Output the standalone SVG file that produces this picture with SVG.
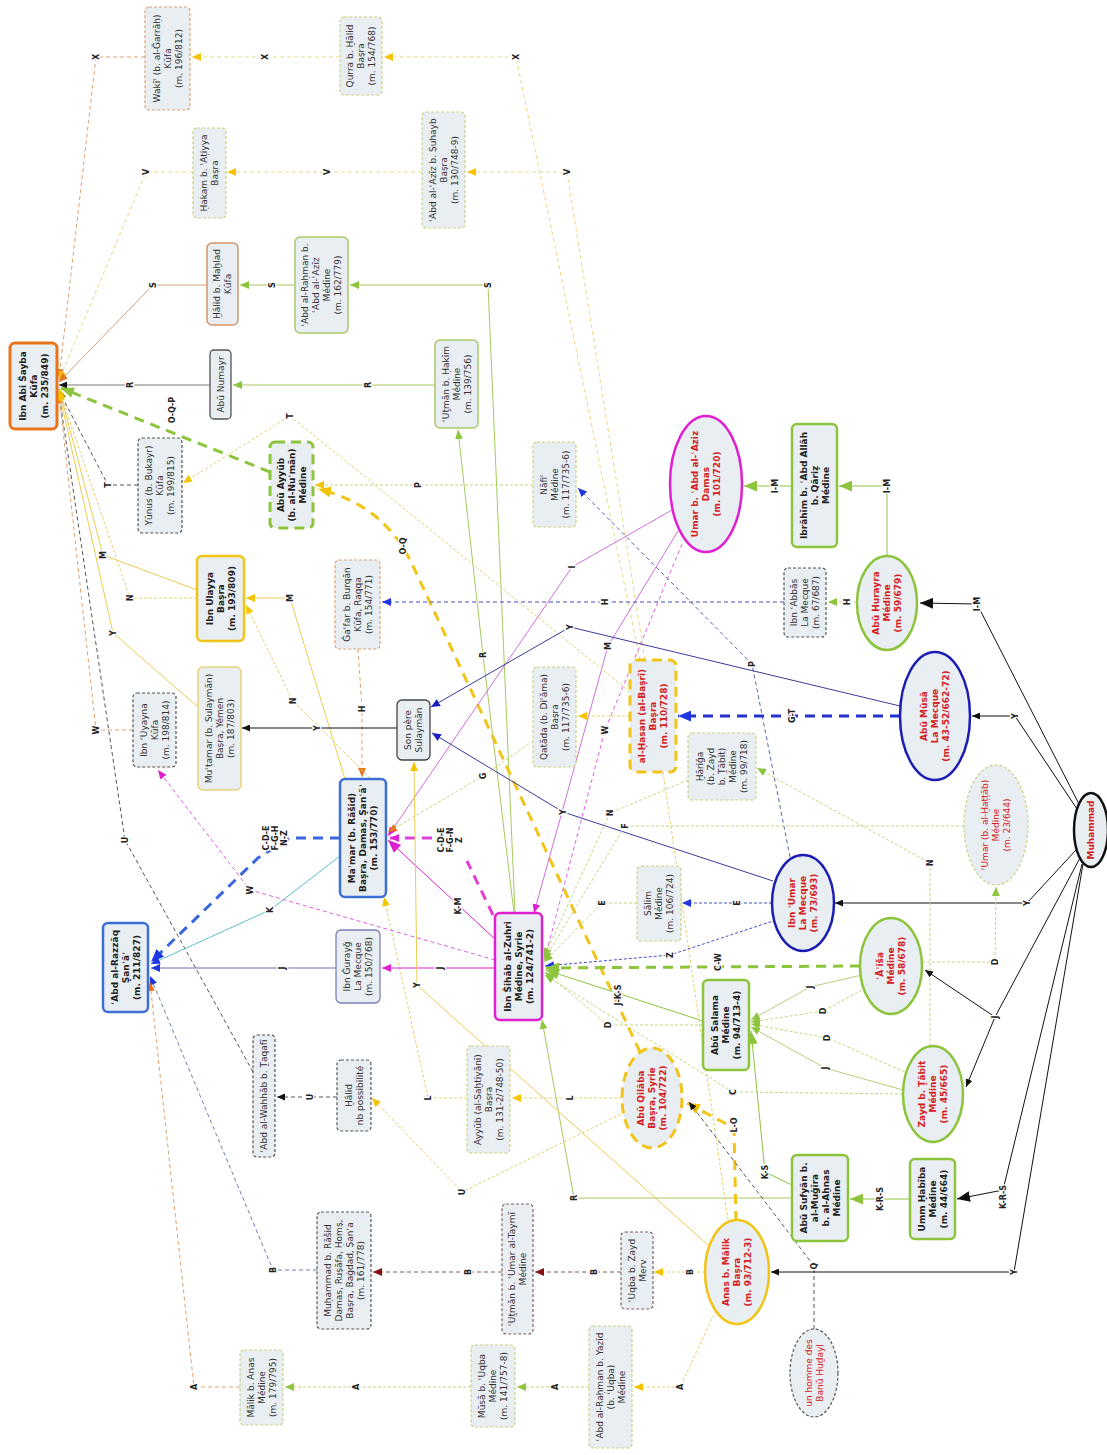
<svg xmlns="http://www.w3.org/2000/svg" width="1107" height="1455" viewBox="0 0 1107 1455">
<defs>
<style>
.bx{fill:#e9eef2}
.t{font-family:"DejaVu Sans",sans-serif;font-size:9px;fill:#333;text-anchor:middle}
.tb{font-family:"DejaVu Sans",sans-serif;font-size:9px;font-weight:bold;fill:#222;text-anchor:middle}
.tr{font-family:"DejaVu Sans",sans-serif;font-size:9px;font-weight:bold;fill:#d42020;text-anchor:middle}
.trn{font-family:"DejaVu Sans",sans-serif;font-size:9px;fill:#d42020;text-anchor:middle}
.l{font-family:"DejaVu Sans",sans-serif;font-size:8px;font-weight:bold;fill:#222;text-anchor:middle;stroke:#fff;stroke-width:2.5;paint-order:stroke}
.e{fill:none;stroke-width:1}
.dot{stroke-dasharray:3 2}
.dsh{stroke-dasharray:4 3}
.td{stroke-width:3;stroke-dasharray:10 7}
.dyg{stroke:#c8d480;stroke-width:1.2;stroke-dasharray:3 2;fill:#e9eef2}
.dgr{stroke:#555;stroke-width:1.2;stroke-dasharray:3 2;fill:#e9eef2}
.dor{stroke:#e0a070;stroke-width:1.2;stroke-dasharray:3 2;fill:#e9eef2}
.dbr{stroke:#806060;stroke-width:1.2;stroke-dasharray:3 2;fill:#e9eef2}
</style>
<marker id="ak" viewBox="0 0 8 7" refX="8" refY="3.5" markerWidth="8" markerHeight="7" markerUnits="userSpaceOnUse" orient="auto"><path d="M0,0L8,3.5L0,7z" fill="#111"/></marker>
<marker id="aK" viewBox="0 0 12 10" refX="12" refY="5" markerWidth="13" markerHeight="11" markerUnits="userSpaceOnUse" orient="auto"><path d="M0,0L12,5L0,10z" fill="#111"/></marker>
<marker id="ay" viewBox="0 0 8 7" refX="8" refY="3.5" markerWidth="9" markerHeight="8" markerUnits="userSpaceOnUse" orient="auto"><path d="M0,0L8,3.5L0,7z" fill="#f5c400"/></marker>
<marker id="aY" viewBox="0 0 12 10" refX="12" refY="5" markerWidth="13" markerHeight="11" markerUnits="userSpaceOnUse" orient="auto"><path d="M0,0L12,5L0,10z" fill="#f5c400"/></marker>
<marker id="ag" viewBox="0 0 8 7" refX="8" refY="3.5" markerWidth="9" markerHeight="8" markerUnits="userSpaceOnUse" orient="auto"><path d="M0,0L8,3.5L0,7z" fill="#8cc43c"/></marker>
<marker id="aG" viewBox="0 0 12 10" refX="12" refY="5" markerWidth="13" markerHeight="11" markerUnits="userSpaceOnUse" orient="auto"><path d="M0,0L12,5L0,10z" fill="#8cc43c"/></marker>
<marker id="am" viewBox="0 0 8 7" refX="8" refY="3.5" markerWidth="9" markerHeight="8" markerUnits="userSpaceOnUse" orient="auto"><path d="M0,0L8,3.5L0,7z" fill="#e020d0"/></marker>
<marker id="aM" viewBox="0 0 12 10" refX="12" refY="5" markerWidth="13" markerHeight="11" markerUnits="userSpaceOnUse" orient="auto"><path d="M0,0L12,5L0,10z" fill="#e020d0"/></marker>
<marker id="ab" viewBox="0 0 8 7" refX="8" refY="3.5" markerWidth="9" markerHeight="8" markerUnits="userSpaceOnUse" orient="auto"><path d="M0,0L8,3.5L0,7z" fill="#1f36e0"/></marker>
<marker id="aB" viewBox="0 0 12 10" refX="12" refY="5" markerWidth="13" markerHeight="11" markerUnits="userSpaceOnUse" orient="auto"><path d="M0,0L12,5L0,10z" fill="#1f36e0"/></marker>
<marker id="an" viewBox="0 0 8 7" refX="8" refY="3.5" markerWidth="9" markerHeight="8" markerUnits="userSpaceOnUse" orient="auto"><path d="M0,0L8,3.5L0,7z" fill="#2020c0"/></marker>
<marker id="ao" viewBox="0 0 8 7" refX="8" refY="3.5" markerWidth="9" markerHeight="8" markerUnits="userSpaceOnUse" orient="auto"><path d="M0,0L8,3.5L0,7z" fill="#e8741c"/></marker>
<marker id="ar" viewBox="0 0 8 7" refX="8" refY="3.5" markerWidth="9" markerHeight="8" markerUnits="userSpaceOnUse" orient="auto"><path d="M0,0L8,3.5L0,7z" fill="#8b1010"/></marker>
</defs>
<rect width="1107" height="1455" fill="#fff"/>

<g id="connectors">
<!-- X -->
<path class="e dsh" stroke="#ecd88a" d="M640,660L516,57L384,57" marker-end="url(#ay)"/>
<path class="e dsh" stroke="#ecd88a" d="M340,57L192,57" marker-end="url(#ay)"/>
<path class="e dsh" stroke="#e0a070" d="M145,57L96,57L59,378" marker-end="url(#ao)"/>
<!-- V -->
<path class="e dsh" stroke="#ecd88a" d="M645,660L567,172L467,172" marker-end="url(#ay)"/>
<path class="e dsh" stroke="#ecd88a" d="M422,172L227,172" marker-end="url(#ay)"/>
<path class="e dsh" stroke="#ecd88a" d="M193,172L146,172L59,380" marker-end="url(#ay)"/>
<!-- S -->
<path class="e" stroke="#a8c860" d="M515,913L488,285L350,285" marker-end="url(#ag)"/>
<path class="e" stroke="#a8c860" d="M295,285L240,285" marker-end="url(#ag)"/>
<path class="e" stroke="#d4a07a" stroke-width="1.5" d="M207,285L153,285L59,382" marker-end="url(#ao)"/>
<!-- R -->
<path class="e" stroke="#a8c860" d="M792,1198L574,1198L542,1020" marker-end="url(#ag)"/>
<path class="e" stroke="#a8c860" d="M514,913L483,655L458,430" marker-end="url(#ag)"/>
<path class="e" stroke="#a8c860" d="M435,385L368,385L233,385" marker-end="url(#ag)"/>
<path class="e" stroke="#777" stroke-width="1.3" d="M210,385L130,385L59,385" marker-end="url(#ak)"/>
<!-- O-Q-P / O-Q / L-O -->
<path class="e td" stroke="#8cc43c" d="M270,472L61,388" marker-end="url(#aG)"/>
<path class="e td" stroke="#f2c418" d="M640,1052L413,566Q385,505 318,489" marker-end="url(#aY)"/>
<path class="e td" stroke="#f2c418" d="M736,1221L734,1128L687,1103" marker-end="url(#aY)"/>
<!-- Q -->
<path class="e dsh" stroke="#555" d="M814,1329L814,1266L689,1102" marker-end="url(#ak)"/>
<!-- L -->
<path class="e dot" stroke="#e4d070" d="M622,1098L570,1098L512,1098" marker-end="url(#ay)"/>
<path class="e dot" stroke="#e4d070" d="M467,1098L428,1098L384,897" marker-end="url(#ay)"/>
<!-- U -->
<path class="e dot" stroke="#e4d070" d="M625,1112L462,1192L372,1098" marker-end="url(#ay)"/>
<path class="e dsh" stroke="#555" d="M337,1097L310,1097L277,1097" marker-end="url(#ak)"/>
<path class="e dsh" stroke="#555" d="M253,1072L125,840L59,394" marker-end="url(#ak)"/>
<!-- B -->
<path class="e dot" stroke="#e4d070" d="M705,1272L690,1272L654,1272" marker-end="url(#ay)"/>
<path class="e dsh" stroke="#905858" d="M621,1272L594,1272L535,1272" marker-end="url(#ar)"/>
<path class="e dsh" stroke="#905858" d="M502,1272L468,1272L373,1272" marker-end="url(#ar)"/>
<path class="e dsh" stroke="#7080b0" d="M317,1270L273,1270L150,976" marker-end="url(#ab)"/>
<!-- A -->
<path class="e dot" stroke="#e4d070" d="M716,1310L680,1387L634,1387" marker-end="url(#ay)"/>
<path class="e dot" stroke="#c8d480" d="M589,1387L555,1387L517,1387" marker-end="url(#ag)"/>
<path class="e dot" stroke="#c8d480" d="M471,1387L356,1387L285,1387" marker-end="url(#ag)"/>
<path class="e dsh" stroke="#e0a070" d="M240,1387L194,1387L150,982" marker-end="url(#ao)"/>
<!-- C-D-E F-G-H N-Z -->
<path class="e td" stroke="#3a66dd" d="M340,838L290,838L258,858L151,962" marker-end="url(#aB)"/>
<!-- K teal -->
<path class="e" stroke="#5cc0c8" d="M340,856L270,910L151,964" marker-end="url(#ab)"/>
<!-- J -->
<path class="e" stroke="#6a70b0" stroke-width="1.3" d="M336,968L282,968L151,968" marker-end="url(#ab)"/>
<path class="e" stroke="#e020d0" stroke-width="1.3" d="M495,968L440,968L382,968" marker-end="url(#am)"/>
<!-- W -->
<path class="e dsh" stroke="#e060e0" d="M682,544L605,730L545,958" marker-end="url(#am)"/>
<path class="e dsh" stroke="#e060e0" d="M495,960L250,890L158,770" marker-end="url(#am)"/>
<path class="e dsh" stroke="#e0a070" d="M133,730L96,730L59,394" marker-end="url(#ao)"/>
<!-- M / K-M / I -->
<path class="e" stroke="#d070dc" stroke-width="1.2" d="M678,531L608,646L534,913" marker-end="url(#am)"/>
<path class="e" stroke="#e020d0" stroke-width="3" d="M497,941L388,840" marker-end="url(#aM)"/>
<path class="e" stroke="#eccc50" stroke-width="1.3" d="M345,779L290,598L246,598" marker-end="url(#ay)"/>
<path class="e" stroke="#eccc50" stroke-width="1.3" d="M197,590L103,555L59,388" marker-end="url(#ay)"/>
<path class="e" stroke="#d070dc" stroke-width="1.2" d="M672,510L572,567L388,836" marker-end="url(#am)"/>
<path class="e td" stroke="#e040d8" d="M493,915L467,861M432,838L390,838" marker-end="url(#am)"/>
<!-- I-M -->
<path class="e" stroke="#111" stroke-width="2.5" d="M1080,806L977,604L920,603" marker-end="url(#aK)"/>
<path class="e" stroke="#8cc43c" stroke-width="2" d="M887,556L887,486L839,486" marker-end="url(#aG)"/>
<path class="e" stroke="#8cc43c" stroke-width="2" d="M792,486L775,486L744,486" marker-end="url(#aG)"/>
<!-- H -->
<path class="e dot" stroke="#c8d480" d="M857,602L847,602L828,602" marker-end="url(#ag)"/>
<path class="e dsh" stroke="#4050c8" d="M784,602L605,602L382,602" marker-end="url(#ab)"/>
<path class="e dsh" stroke="#e0a070" d="M358,649L362,709L362,777" marker-end="url(#ao)"/>
<!-- P -->
<path class="e dsh" stroke="#5566aa" d="M790,857L752,664L578,488" marker-end="url(#ab)"/>
<path class="e dot" stroke="#c8d480" d="M533,485L418,485L315,485" marker-end="url(#ay)"/>
<!-- T -->
<path class="e dot" stroke="#e4d070" d="M630,692L290,416L183,483" marker-end="url(#ay)"/>
<path class="e dsh" stroke="#555" d="M138,485L108,485L59,391" marker-end="url(#ak)"/>
<!-- Y -->
<path class="e" stroke="#111" d="M1079,812L1015,716L972,716" marker-end="url(#ak)"/>
<path class="e" stroke="#3a3a9a" d="M900,706L570,627L431,707" marker-end="url(#an)"/>
<path class="e" stroke="#111" d="M1076,850L1027,903L835,903" marker-end="url(#ak)"/>
<path class="e" stroke="#3a3a9a" d="M773,881L563,812L432,733" marker-end="url(#an)"/>
<path class="e" stroke="#111" d="M1083,864L1014,1272L771,1272" marker-end="url(#ak)"/>
<path class="e" stroke="#eccc50" stroke-width="1.3" d="M708,1245L417,985L414,762" marker-end="url(#ay)"/>
<path class="e" stroke="#111" d="M397,728L317,728L242,728" marker-end="url(#ak)"/>
<path class="e" stroke="#eccc50" stroke-width="1.3" d="M198,707L113,633L59,392" marker-end="url(#ay)"/>
<!-- N -->
<path class="e dot" stroke="#c8d480" d="M930,1046L930,863L757,768" marker-end="url(#ag)"/>
<path class="e dot" stroke="#c8d480" d="M688,780L610,813L544,957" marker-end="url(#ag)"/>
<path class="e dot" stroke="#e4d070" d="M370,778L293,701L246,605" marker-end="url(#ay)"/>
<path class="e dot" stroke="#e4d070" d="M197,598L130,598L59,390" marker-end="url(#ay)"/>
<!-- F / E / Z -->
<path class="e dot" stroke="#c8d480" d="M964,826L625,826L544,960" marker-end="url(#ag)"/>
<path class="e dot" stroke="#4050c8" d="M772,903L737,903L682,903" marker-end="url(#ab)"/>
<path class="e dot" stroke="#c8d480" d="M637,903L602,903L544,962" marker-end="url(#ag)"/>
<path class="e dot" stroke="#4050c8" d="M776,920L670,955L545,966" marker-end="url(#ab)"/>
<!-- C-W / J-K-S / D / J / C -->
<path class="e td" stroke="#8cc43c" d="M860,966L546,968" marker-end="url(#aG)"/>
<path class="e" stroke="#8cc43c" stroke-width="3" d="M703,1021L546,970" marker-end="url(#aG)"/>
<path class="e dot" stroke="#c8d480" d="M703,1025L608,1025L545,972" marker-end="url(#ag)"/>
<path class="e dot" stroke="#c8d480" d="M862,990L823,1011L751,1022" marker-end="url(#ag)"/>
<path class="e dot" stroke="#c8d480" d="M905,1072L827,1038L751,1024" marker-end="url(#ag)"/>
<path class="e dot" stroke="#c8d480" d="M922,962L995,962L996,887" marker-end="url(#ag)"/>
<path class="e" stroke="#b4d078" stroke-width="1.3" d="M862,975L810,987L751,1020" marker-end="url(#ag)"/>
<path class="e" stroke="#b4d078" stroke-width="1.3" d="M903,1090L825,1068L751,1027" marker-end="url(#ag)"/>
<path class="e" stroke="#111" d="M1080,858L995,1017L925,970" marker-end="url(#ak)"/>
<path class="e" stroke="#111" d="M995,1017L966,1087" marker-end="url(#ak)"/>
<path class="e dot" stroke="#c8d480" d="M903,1094L733,1092L545,975" marker-end="url(#ag)"/>
<!-- K-S / K-R-S -->
<path class="e" stroke="#8cc43c" stroke-width="2.5" d="M792,1185L765,1172L751,1031" marker-end="url(#aG)"/>
<path class="e" stroke="#111" stroke-width="2.5" d="M1082,864L1003,1190L957,1199" marker-end="url(#aK)"/>
<path class="e" stroke="#8cc43c" stroke-width="2.5" d="M910,1199L880,1199L850,1199" marker-end="url(#aG)"/>
<!-- G / G-T -->
<path class="e dot" stroke="#c8d480" d="M533,741L483,776L388,832" marker-end="url(#ao)"/>
<path class="e td" stroke="#2233cc" d="M900,716L790,716L678,716" marker-end="url(#aB)"/>
<path class="e dot" stroke="#e4d070" d="M630,716L578,716" marker-end="url(#ay)"/>
<path class="e dot" stroke="#e4d070" d="M728,1220L663,772"/>

<!-- labels -->
<g>
<text class="l" transform="translate(516,57) rotate(-90)" y="3">X</text>
<text class="l" transform="translate(265,57) rotate(-90)" y="3">X</text>
<text class="l" transform="translate(96,57) rotate(-90)" y="3">X</text>
<text class="l" transform="translate(567,172) rotate(-90)" y="3">V</text>
<text class="l" transform="translate(327,172) rotate(-90)" y="3">V</text>
<text class="l" transform="translate(146,172) rotate(-90)" y="3">V</text>
<text class="l" transform="translate(488,285) rotate(-90)" y="3">S</text>
<text class="l" transform="translate(272,285) rotate(-90)" y="3">S</text>
<text class="l" transform="translate(153,285) rotate(-90)" y="3">S</text>
<text class="l" transform="translate(574,1198) rotate(-90)" y="3">R</text>
<text class="l" transform="translate(483,655) rotate(-90)" y="3">R</text>
<text class="l" transform="translate(368,385) rotate(-90)" y="3">R</text>
<text class="l" transform="translate(130,385) rotate(-90)" y="3">R</text>
<text class="l" transform="translate(172,410) rotate(-90)" y="3">O-Q-P</text>
<text class="l" transform="translate(403,546) rotate(-90)" y="3">O-Q</text>
<text class="l" transform="translate(734,1125) rotate(-90)" y="3">L-O</text>
<text class="l" transform="translate(814,1266) rotate(-90)" y="3">Q</text>
<text class="l" transform="translate(570,1098) rotate(-90)" y="3">L</text>
<text class="l" transform="translate(428,1098) rotate(-90)" y="3">L</text>
<text class="l" transform="translate(462,1192) rotate(-90)" y="3">U</text>
<text class="l" transform="translate(310,1097) rotate(-90)" y="3">U</text>
<text class="l" transform="translate(125,840) rotate(-90)" y="3">U</text>
<text class="l" transform="translate(690,1272) rotate(-90)" y="3">B</text>
<text class="l" transform="translate(594,1272) rotate(-90)" y="3">B</text>
<text class="l" transform="translate(468,1272) rotate(-90)" y="3">B</text>
<text class="l" transform="translate(273,1270) rotate(-90)" y="3">B</text>
<text class="l" transform="translate(680,1387) rotate(-90)" y="3">A</text>
<text class="l" transform="translate(555,1387) rotate(-90)" y="3">A</text>
<text class="l" transform="translate(356,1387) rotate(-90)" y="3">A</text>
<text class="l" transform="translate(194,1387) rotate(-90)" y="3">A</text>
<text class="l" transform="translate(275,838) rotate(-90)"><tspan x="0" y="-6">C-D-E</tspan><tspan x="0" dy="9">F-G-H</tspan><tspan x="0" dy="9">N-Z</tspan></text>
<text class="l" transform="translate(450,840) rotate(-90)"><tspan x="0" y="-6">C-D-E</tspan><tspan x="0" dy="9">F-G-N</tspan><tspan x="0" dy="9">Z</tspan></text>
<text class="l" transform="translate(270,910) rotate(-90)" y="3">K</text>
<text class="l" transform="translate(282,968) rotate(-90)" y="3">J</text>
<text class="l" transform="translate(440,968) rotate(-90)" y="3">J</text>
<text class="l" transform="translate(605,730) rotate(-90)" y="3">W</text>
<text class="l" transform="translate(250,890) rotate(-90)" y="3">W</text>
<text class="l" transform="translate(96,730) rotate(-90)" y="3">W</text>
<text class="l" transform="translate(608,646) rotate(-90)" y="3">M</text>
<text class="l" transform="translate(458,906) rotate(-90)" y="3">K-M</text>
<text class="l" transform="translate(290,598) rotate(-90)" y="3">M</text>
<text class="l" transform="translate(103,555) rotate(-90)" y="3">M</text>
<text class="l" transform="translate(572,567) rotate(-90)" y="3">I</text>
<text class="l" transform="translate(977,604) rotate(-90)" y="3">I-M</text>
<text class="l" transform="translate(887,486) rotate(-90)" y="3">I-M</text>
<text class="l" transform="translate(775,486) rotate(-90)" y="3">I-M</text>
<text class="l" transform="translate(847,602) rotate(-90)" y="3">H</text>
<text class="l" transform="translate(605,602) rotate(-90)" y="3">H</text>
<text class="l" transform="translate(362,709) rotate(-90)" y="3">H</text>
<text class="l" transform="translate(752,664) rotate(-90)" y="3">P</text>
<text class="l" transform="translate(418,485) rotate(-90)" y="3">P</text>
<text class="l" transform="translate(290,416) rotate(-90)" y="3">T</text>
<text class="l" transform="translate(108,485) rotate(-90)" y="3">T</text>
<text class="l" transform="translate(1015,716) rotate(-90)" y="3">Y</text>
<text class="l" transform="translate(570,627) rotate(-90)" y="3">Y</text>
<text class="l" transform="translate(1027,903) rotate(-90)" y="3">Y</text>
<text class="l" transform="translate(563,812) rotate(-90)" y="3">Y</text>
<text class="l" transform="translate(1014,1272) rotate(-90)" y="3">Y</text>
<text class="l" transform="translate(417,985) rotate(-90)" y="3">Y</text>
<text class="l" transform="translate(317,728) rotate(-90)" y="3">Y</text>
<text class="l" transform="translate(113,633) rotate(-90)" y="3">Y</text>
<text class="l" transform="translate(930,863) rotate(-90)" y="3">N</text>
<text class="l" transform="translate(610,813) rotate(-90)" y="3">N</text>
<text class="l" transform="translate(293,701) rotate(-90)" y="3">N</text>
<text class="l" transform="translate(130,598) rotate(-90)" y="3">N</text>
<text class="l" transform="translate(625,826) rotate(-90)" y="3">F</text>
<text class="l" transform="translate(737,903) rotate(-90)" y="3">E</text>
<text class="l" transform="translate(602,903) rotate(-90)" y="3">E</text>
<text class="l" transform="translate(670,955) rotate(-90)" y="3">Z</text>
<text class="l" transform="translate(718,962) rotate(-90)" y="3">C-W</text>
<text class="l" transform="translate(618,995) rotate(-90)" y="3">J-K-S</text>
<text class="l" transform="translate(608,1025) rotate(-90)" y="3">D</text>
<text class="l" transform="translate(823,1011) rotate(-90)" y="3">D</text>
<text class="l" transform="translate(827,1038) rotate(-90)" y="3">D</text>
<text class="l" transform="translate(995,962) rotate(-90)" y="3">D</text>
<text class="l" transform="translate(810,987) rotate(-90)" y="3">J</text>
<text class="l" transform="translate(825,1068) rotate(-90)" y="3">J</text>
<text class="l" transform="translate(995,1017) rotate(-90)" y="3">J</text>
<text class="l" transform="translate(733,1092) rotate(-90)" y="3">C</text>
<text class="l" transform="translate(765,1172) rotate(-90)" y="3">K-S</text>
<text class="l" transform="translate(1003,1197) rotate(-90)" y="3">K-R-S</text>
<text class="l" transform="translate(880,1199) rotate(-90)" y="3">K-R-S</text>
<text class="l" transform="translate(483,776) rotate(-90)" y="3">G</text>
<text class="l" transform="translate(792,716) rotate(-90)" y="3">G-T</text>
</g>
</g>

<g id="nodes">
<g id="n-ibnabishayba"><rect x="10" y="343" width="47" height="86" rx="5" fill="#e9eef2" stroke="#e8741c" stroke-width="3"/><text class="tb" transform="translate(33.5,386) rotate(-90)"><tspan x="0" y="-7.8">Ibn Abi Šayba</tspan><tspan x="0" dy="11">Kūfa</tspan><tspan x="0" dy="11">(m. 235/849)</tspan></text></g>
<g id="n-waki"><rect class="dor" x="145" y="7" width="45" height="103" rx="4"/><text class="t" transform="translate(167.5,58.5) rotate(-90)"><tspan x="0" y="-7.8">Wakīʿ (b. al-Ǧarrāḥ)</tspan><tspan x="0" dy="11">Kūfa</tspan><tspan x="0" dy="11">(m. 196/812)</tspan></text></g>
<g id="n-qurra"><rect class="dyg" x="340" y="17" width="42" height="78" rx="4"/><text class="t" transform="translate(361,56) rotate(-90)"><tspan x="0" y="-7.8">Qurra b. Ḫālid</tspan><tspan x="0" dy="11">Baṣra</tspan><tspan x="0" dy="11">(m. 154/768)</tspan></text></g>
<g id="n-hakam"><rect class="dyg" x="193" y="128" width="33" height="90" rx="4"/><text class="t" transform="translate(209.5,173) rotate(-90)"><tspan x="0" y="-2.3">Ḥakam b. ʿAṭiyya</tspan><tspan x="0" dy="11">Baṣra</tspan></text></g>
<g id="n-suhayb"><rect class="dyg" x="422" y="112" width="43" height="116" rx="4"/><text class="t" transform="translate(443.5,170) rotate(-90)"><tspan x="0" y="-7.8">ʿAbd al-ʿAzīz b. Ṣuhayb</tspan><tspan x="0" dy="11">Baṣra</tspan><tspan x="0" dy="11">(m. 130/748-9)</tspan></text></g>
<g id="n-halidmahlad"><rect x="207" y="243" width="31" height="82" rx="5" fill="#e9eef2" stroke="#d4956a" stroke-width="1.5"/><text class="t" transform="translate(222.5,284) rotate(-90)"><tspan x="0" y="-2.3">Ḫālid b. Maḫlad</tspan><tspan x="0" dy="11">Kūfa</tspan></text></g>
<g id="n-abdalrahman-aziz"><rect x="295" y="237" width="53" height="96" rx="5" fill="#e9eef2" stroke="#a8cc68" stroke-width="1.5"/><text class="t" transform="translate(321.5,285) rotate(-90)"><tspan x="0" y="-13.3">ʿAbd al-Raḥman b.</tspan><tspan x="0" dy="11">ʿAbd al-ʿAzīz</tspan><tspan x="0" dy="11">Médine</tspan><tspan x="0" dy="11">(m. 162/779)</tspan></text></g>
<g id="n-abunumayr"><rect x="210" y="350" width="21" height="69" rx="4" fill="#e9eef2" stroke="#555" stroke-width="1.3"/><text class="t" transform="translate(220.5,384.5) rotate(-90)" y="3.2">Abū Numayr</text></g>
<g id="n-uthmanhakim"><rect x="435" y="340" width="43" height="88" rx="5" fill="#e9eef2" stroke="#a8cc68" stroke-width="1.5"/><text class="t" transform="translate(456.5,384) rotate(-90)"><tspan x="0" y="-7.8">ʿUṯmān b. Ḥakīm</tspan><tspan x="0" dy="11">Médine</tspan><tspan x="0" dy="11">(m. 139/756)</tspan></text></g>
<g id="n-yunus"><rect class="dgr" x="138" y="438" width="44" height="95" rx="4"/><text class="t" transform="translate(160,485.5) rotate(-90)"><tspan x="0" y="-7.8">Yūnus (b. Bukayr)</tspan><tspan x="0" dy="11">Kūfa</tspan><tspan x="0" dy="11">(m. 199/815)</tspan></text></g>
<g id="n-abuayyub"><rect x="270" y="442" width="43" height="86" rx="5" fill="#e9eef2" stroke="#8cc43c" stroke-width="3" stroke-dasharray="10 6"/><text class="tb" transform="translate(291.5,485) rotate(-90)"><tspan x="0" y="-7.8">Abū Ayyūb</tspan><tspan x="0" dy="11">(b. al-Nuʿmān)</tspan><tspan x="0" dy="11">Médine</tspan></text></g>
<g id="n-nafi"><rect class="dyg" x="533" y="442" width="43" height="85" rx="4"/><text class="t" transform="translate(554.5,484.5) rotate(-90)"><tspan x="0" y="-7.8">Nāfiʿ</tspan><tspan x="0" dy="11">Médine</tspan><tspan x="0" dy="11">(m. 117/735-6)</tspan></text></g>
<g id="n-umarabdalaziz"><ellipse cx="706" cy="484" rx="36" ry="68" fill="#e9eef2" stroke="#e020d0" stroke-width="2.5"/><text class="tr" transform="translate(706,484) rotate(-90)"><tspan x="0" y="-7.8">Umar b. ʿAbd al-ʿAziz</tspan><tspan x="0" dy="11">Damas</tspan><tspan x="0" dy="11">(m. 101/720)</tspan></text></g>
<g id="n-ibrahim"><rect x="792" y="424" width="45" height="123" rx="5" fill="#e9eef2" stroke="#8cc43c" stroke-width="2.5"/><text class="tb" transform="translate(814.5,485.5) rotate(-90)"><tspan x="0" y="-7.8">Ibrāhīm b. ʿAbd Allāh</tspan><tspan x="0" dy="11">b. Qāriẓ</tspan><tspan x="0" dy="11">Médine</tspan></text></g>
<g id="n-ibnulayya"><rect x="197" y="556" width="47" height="85" rx="5" fill="#e9eef2" stroke="#f2c418" stroke-width="2.5"/><text class="tb" transform="translate(220.5,598.5) rotate(-90)"><tspan x="0" y="-7.8">Ibn Ulayya</tspan><tspan x="0" dy="11">Baṣra</tspan><tspan x="0" dy="11">(m. 193/809)</tspan></text></g>
<g id="n-jafar"><rect class="dor" x="335" y="560" width="45" height="89" rx="4"/><text class="t" transform="translate(357.5,604.5) rotate(-90)"><tspan x="0" y="-7.8">Ǧaʿfar b. Burqān</tspan><tspan x="0" dy="11">Kūfa, Raqqa</tspan><tspan x="0" dy="11">(m. 154/771)</tspan></text></g>
<g id="n-ibnabbas"><rect class="dgr" x="784" y="568" width="42" height="69" rx="4"/><text class="t" transform="translate(805,602.5) rotate(-90)"><tspan x="0" y="-7.8">Ibn ʿAbbās</tspan><tspan x="0" dy="11">La Mecque</tspan><tspan x="0" dy="11">(m. 67/687)</tspan></text></g>
<g id="n-abuhurayra"><ellipse cx="887" cy="603" rx="30" ry="47" fill="#e9eef2" stroke="#8cc43c" stroke-width="2.5"/><text class="tr" transform="translate(887,603) rotate(-90)"><tspan x="0" y="-7.8">Abū Hurayra</tspan><tspan x="0" dy="11">Médine</tspan><tspan x="0" dy="11">(m. 59/679)</tspan></text></g>
<g id="n-abumusa"><ellipse cx="935" cy="716" rx="35" ry="64" fill="#e9eef2" stroke="#1c1cb4" stroke-width="2.5"/><text class="tr" transform="translate(935,716) rotate(-90)"><tspan x="0" y="-7.8">Abū Mūsā</tspan><tspan x="0" dy="11">La Mecque</tspan><tspan x="0" dy="11">(m. 43-52/662-72)</tspan></text></g>
<g id="n-mutamar"><rect x="198" y="667" width="43" height="123" rx="5" fill="#e9eef2" stroke="#e6d27a" stroke-width="1.5"/><text class="t" transform="translate(219.5,728.5) rotate(-90)"><tspan x="0" y="-7.8">Muʿtamar (b. Sulaymān)</tspan><tspan x="0" dy="11">Baṣra, Yémen</tspan><tspan x="0" dy="11">(m. 187/803)</tspan></text></g>
<g id="n-ibnuyayna"><rect class="dgr" x="133" y="693" width="43" height="74" rx="4"/><text class="t" transform="translate(154.5,730) rotate(-90)"><tspan x="0" y="-7.8">Ibn ʿUyayna</tspan><tspan x="0" dy="11">Kūfa</tspan><tspan x="0" dy="11">(m. 198/814)</tspan></text></g>
<g id="n-sonpere"><rect x="397" y="700" width="33" height="60" rx="5" fill="#e9eef2" stroke="#444" stroke-width="1.3"/><text class="t" transform="translate(413.5,730) rotate(-90)"><tspan x="0" y="-2.3">Son père</tspan><tspan x="0" dy="11">Sulaymān</tspan></text></g>
<g id="n-qatada"><rect class="dyg" x="533" y="667" width="43" height="100" rx="4"/><text class="t" transform="translate(554.5,717) rotate(-90)"><tspan x="0" y="-7.8">Qatāda (b. Diʿāma)</tspan><tspan x="0" dy="11">Baṣra</tspan><tspan x="0" dy="11">(m. 117/735-6)</tspan></text></g>
<g id="n-hasan"><rect x="630" y="660" width="46" height="112" rx="6" fill="#e9eef2" stroke="#f2c418" stroke-width="3" stroke-dasharray="10 6"/><text class="tr" transform="translate(653,716) rotate(-90)"><tspan x="0" y="-7.8">al-Ḥasan (al-Baṣrī)</tspan><tspan x="0" dy="11">Baṣra</tspan><tspan x="0" dy="11">(m. 110/728)</tspan></text></g>
<g id="n-hariga"><rect class="dyg" x="688" y="733" width="68" height="67" rx="4"/><text class="t" transform="translate(722,766.5) rotate(-90)"><tspan x="0" y="-18.8">Ḫāriǧa</tspan><tspan x="0" dy="11">(b. Zayd</tspan><tspan x="0" dy="11">b. Ṯābit)</tspan><tspan x="0" dy="11">Médine</tspan><tspan x="0" dy="11">(m. 99/718)</tspan></text></g>
<g id="n-umarhattab"><ellipse cx="996" cy="825" rx="32" ry="60" fill="#e9eef2" stroke="#c8d480" stroke-width="1.2" stroke-dasharray="3 2"/><text class="trn" transform="translate(996,825) rotate(-90)"><tspan x="0" y="-7.8">ʿUmar (b. al-Ḫaṭṭāb)</tspan><tspan x="0" dy="11">Médine</tspan><tspan x="0" dy="11">(m. 23/644)</tspan></text></g>
<g id="n-muhammad"><ellipse cx="1091" cy="830" rx="17" ry="37" fill="#e9eef2" stroke="#111" stroke-width="2.5"/><text class="tr" transform="translate(1091,830) rotate(-90)" y="3.2">Muhammad</text></g>
<g id="n-mamar"><rect x="340" y="779" width="46" height="118" rx="5" fill="#e9eef2" stroke="#3b6fd6" stroke-width="2.5"/><text class="tb" transform="translate(363,838) rotate(-90)"><tspan x="0" y="-7.8">Maʿmar (b. Rāšid)</tspan><tspan x="0" dy="11">Baṣra, Damas, Ṣanʿāʾ</tspan><tspan x="0" dy="11">(m. 153/770)</tspan></text></g>
<g id="n-abdalrazzaq"><rect x="103" y="923" width="45" height="89" rx="5" fill="#e9eef2" stroke="#3b6fd6" stroke-width="2.5"/><text class="tb" transform="translate(125.5,967.5) rotate(-90)"><tspan x="0" y="-7.8">ʿAbd al-Razzāq</tspan><tspan x="0" dy="11">Ṣanʿāʾ</tspan><tspan x="0" dy="11">(m. 211/827)</tspan></text></g>
<g id="n-ibnjurayj"><rect x="336" y="930" width="44" height="73" rx="5" fill="#e9eef2" stroke="#7a80b8" stroke-width="1.3"/><text class="t" transform="translate(358,966.5) rotate(-90)"><tspan x="0" y="-7.8">Ibn Ǧurayǧ</tspan><tspan x="0" dy="11">La Mecque</tspan><tspan x="0" dy="11">(m. 150/768)</tspan></text></g>
<g id="n-zuhri"><rect x="495" y="913" width="47" height="107" rx="5" fill="#e9eef2" stroke="#e020d0" stroke-width="2.5"/><text class="tb" transform="translate(518.5,966.5) rotate(-90)"><tspan x="0" y="-7.8">Ibn Šihāb al-Zuhri</tspan><tspan x="0" dy="11">Médine, Syrie</tspan><tspan x="0" dy="11">(m. 124/741-2)</tspan></text></g>
<g id="n-salim"><rect class="dyg" x="637" y="866" width="44" height="75" rx="4"/><text class="t" transform="translate(659,903.5) rotate(-90)"><tspan x="0" y="-7.8">Sālim</tspan><tspan x="0" dy="11">Médine</tspan><tspan x="0" dy="11">(m. 106/724)</tspan></text></g>
<g id="n-ibnumar"><ellipse cx="803" cy="903" rx="31" ry="48" fill="#e9eef2" stroke="#1c1cb4" stroke-width="2.5"/><text class="tr" transform="translate(803,903) rotate(-90)"><tspan x="0" y="-7.8">Ibn ʿUmar</tspan><tspan x="0" dy="11">La Mecque</tspan><tspan x="0" dy="11">(m. 73/693)</tspan></text></g>
<g id="n-aisha"><ellipse cx="891" cy="966" rx="31" ry="48" fill="#e9eef2" stroke="#8cc43c" stroke-width="2.5"/><text class="tr" transform="translate(891,966) rotate(-90)"><tspan x="0" y="-7.8">ʿĀʾiša</tspan><tspan x="0" dy="11">Médine</tspan><tspan x="0" dy="11">(m. 58/678)</tspan></text></g>
<g id="n-abusalama"><rect x="703" y="980" width="46" height="90" rx="5" fill="#e9eef2" stroke="#8cc43c" stroke-width="2.5"/><text class="tb" transform="translate(726,1025) rotate(-90)"><tspan x="0" y="-7.8">Abū Salama</tspan><tspan x="0" dy="11">Médine</tspan><tspan x="0" dy="11">(m. 94/713-4)</tspan></text></g>
<g id="n-zayd"><ellipse cx="933" cy="1094" rx="30" ry="48" fill="#e9eef2" stroke="#8cc43c" stroke-width="2.5"/><text class="tr" transform="translate(933,1094) rotate(-90)"><tspan x="0" y="-7.8">Zayd b. Ṯābit</tspan><tspan x="0" dy="11">Médine</tspan><tspan x="0" dy="11">(m. 45/665)</tspan></text></g>
<g id="n-ayyub"><rect class="dyg" x="467" y="1046" width="43" height="107" rx="4"/><text class="t" transform="translate(488.5,1099.5) rotate(-90)"><tspan x="0" y="-7.8">Ayyūb (al-Saḫtiyānī)</tspan><tspan x="0" dy="11">Baṣra</tspan><tspan x="0" dy="11">(m. 131-2/748-50)</tspan></text></g>
<g id="n-abuqilaba"><ellipse cx="652" cy="1098" rx="30" ry="50" fill="#e9eef2" stroke="#f2c418" stroke-width="3" stroke-dasharray="10 6"/><text class="tr" transform="translate(652,1098) rotate(-90)"><tspan x="0" y="-7.8">Abū Qilāba</tspan><tspan x="0" dy="11">Baṣra, Syrie</tspan><tspan x="0" dy="11">(m. 104/722)</tspan></text></g>
<g id="n-abdalwahhab"><rect class="dgr" x="253" y="1035" width="22" height="122" rx="4"/><text class="t" transform="translate(264,1096) rotate(-90)" y="3.2">ʿAbd al-Wahhāb b. Ṯaqafī</text></g>
<g id="n-halidnb"><rect class="dgr" x="337" y="1060" width="34" height="71" rx="4"/><text class="t" transform="translate(354,1095.5) rotate(-90)"><tspan x="0" y="-2.3">Ḫālid</tspan><tspan x="0" dy="11">nb possibilité</tspan></text></g>
<g id="n-abusufyan"><rect x="792" y="1155" width="56" height="86" rx="5" fill="#e9eef2" stroke="#8cc43c" stroke-width="2.5"/><text class="tb" transform="translate(820,1198) rotate(-90)"><tspan x="0" y="-13.3">Abū Sufyān b.</tspan><tspan x="0" dy="11">al-Muġīra</tspan><tspan x="0" dy="11">b. al-Aḫnas</tspan><tspan x="0" dy="11">Médine</tspan></text></g>
<g id="n-ummhabiba"><rect x="910" y="1159" width="45" height="80" rx="5" fill="#e9eef2" stroke="#8cc43c" stroke-width="2.5"/><text class="tb" transform="translate(932.5,1199) rotate(-90)"><tspan x="0" y="-7.8">Umm Ḥabība</tspan><tspan x="0" dy="11">Médine</tspan><tspan x="0" dy="11">(m. 44/664)</tspan></text></g>
<g id="n-muhammadrashid"><rect class="dgr" x="317" y="1212" width="54" height="117" rx="4"/><text class="t" transform="translate(344,1270.5) rotate(-90)"><tspan x="0" y="-13.3">Muḥammad b. Rāšid</tspan><tspan x="0" dy="11">Damas, Ruṣāfa, Ḥomṣ,</tspan><tspan x="0" dy="11">Baṣra, Baġdad, Ṣanʿa</tspan><tspan x="0" dy="11">(m. 161/778)</tspan></text></g>
<g id="n-uthmanumar"><rect class="dbr" x="502" y="1204" width="31" height="130" rx="4"/><text class="t" transform="translate(517.5,1269) rotate(-90)"><tspan x="0" y="-2.3">ʿUṯmān b. ʿUmar al-Taymī</tspan><tspan x="0" dy="11">Médine</tspan></text></g>
<g id="n-uqba"><rect class="dbr" x="621" y="1232" width="32" height="77" rx="4"/><text class="t" transform="translate(637,1270.5) rotate(-90)"><tspan x="0" y="-2.3">ʿUqba b. Zayd</tspan><tspan x="0" dy="11">Merv</tspan></text></g>
<g id="n-anas"><ellipse cx="737" cy="1272" rx="32" ry="52" fill="#e9eef2" stroke="#f2c418" stroke-width="2.5"/><text class="tr" transform="translate(737,1272) rotate(-90)"><tspan x="0" y="-7.8">Anas b. Mālik</tspan><tspan x="0" dy="11">Baṣra</tspan><tspan x="0" dy="11">(m. 93/712-3)</tspan></text></g>
<g id="n-homme"><ellipse cx="814" cy="1373" rx="24" ry="44" fill="#e9eef2" stroke="#555" stroke-width="1.2" stroke-dasharray="3 2"/><text class="trn" transform="translate(814,1373) rotate(-90)"><tspan x="0" y="-2.3">un homme des</tspan><tspan x="0" dy="11">Banū Huḏayl</tspan></text></g>
<g id="n-malik"><rect class="dyg" x="240" y="1350" width="43" height="75" rx="4"/><text class="t" transform="translate(261.5,1387.5) rotate(-90)"><tspan x="0" y="-7.8">Mālik b. Anas</tspan><tspan x="0" dy="11">Médine</tspan><tspan x="0" dy="11">(m. 179/795)</tspan></text></g>
<g id="n-musa"><rect class="dyg" x="471" y="1345" width="44" height="82" rx="4"/><text class="t" transform="translate(493,1386) rotate(-90)"><tspan x="0" y="-7.8">Mūsā b. ʿUqba</tspan><tspan x="0" dy="11">Médine</tspan><tspan x="0" dy="11">(m. 141/757-8)</tspan></text></g>
<g id="n-abdalrahmanyazid"><rect class="dyg" x="589" y="1326" width="43" height="122" rx="4"/><text class="t" transform="translate(610.5,1387) rotate(-90)"><tspan x="0" y="-7.8">ʿAbd al-Raḥman b. Yazīd</tspan><tspan x="0" dy="11">(b. ʿUqba)</tspan><tspan x="0" dy="11">Médine</tspan></text></g>
</g>
</svg>
